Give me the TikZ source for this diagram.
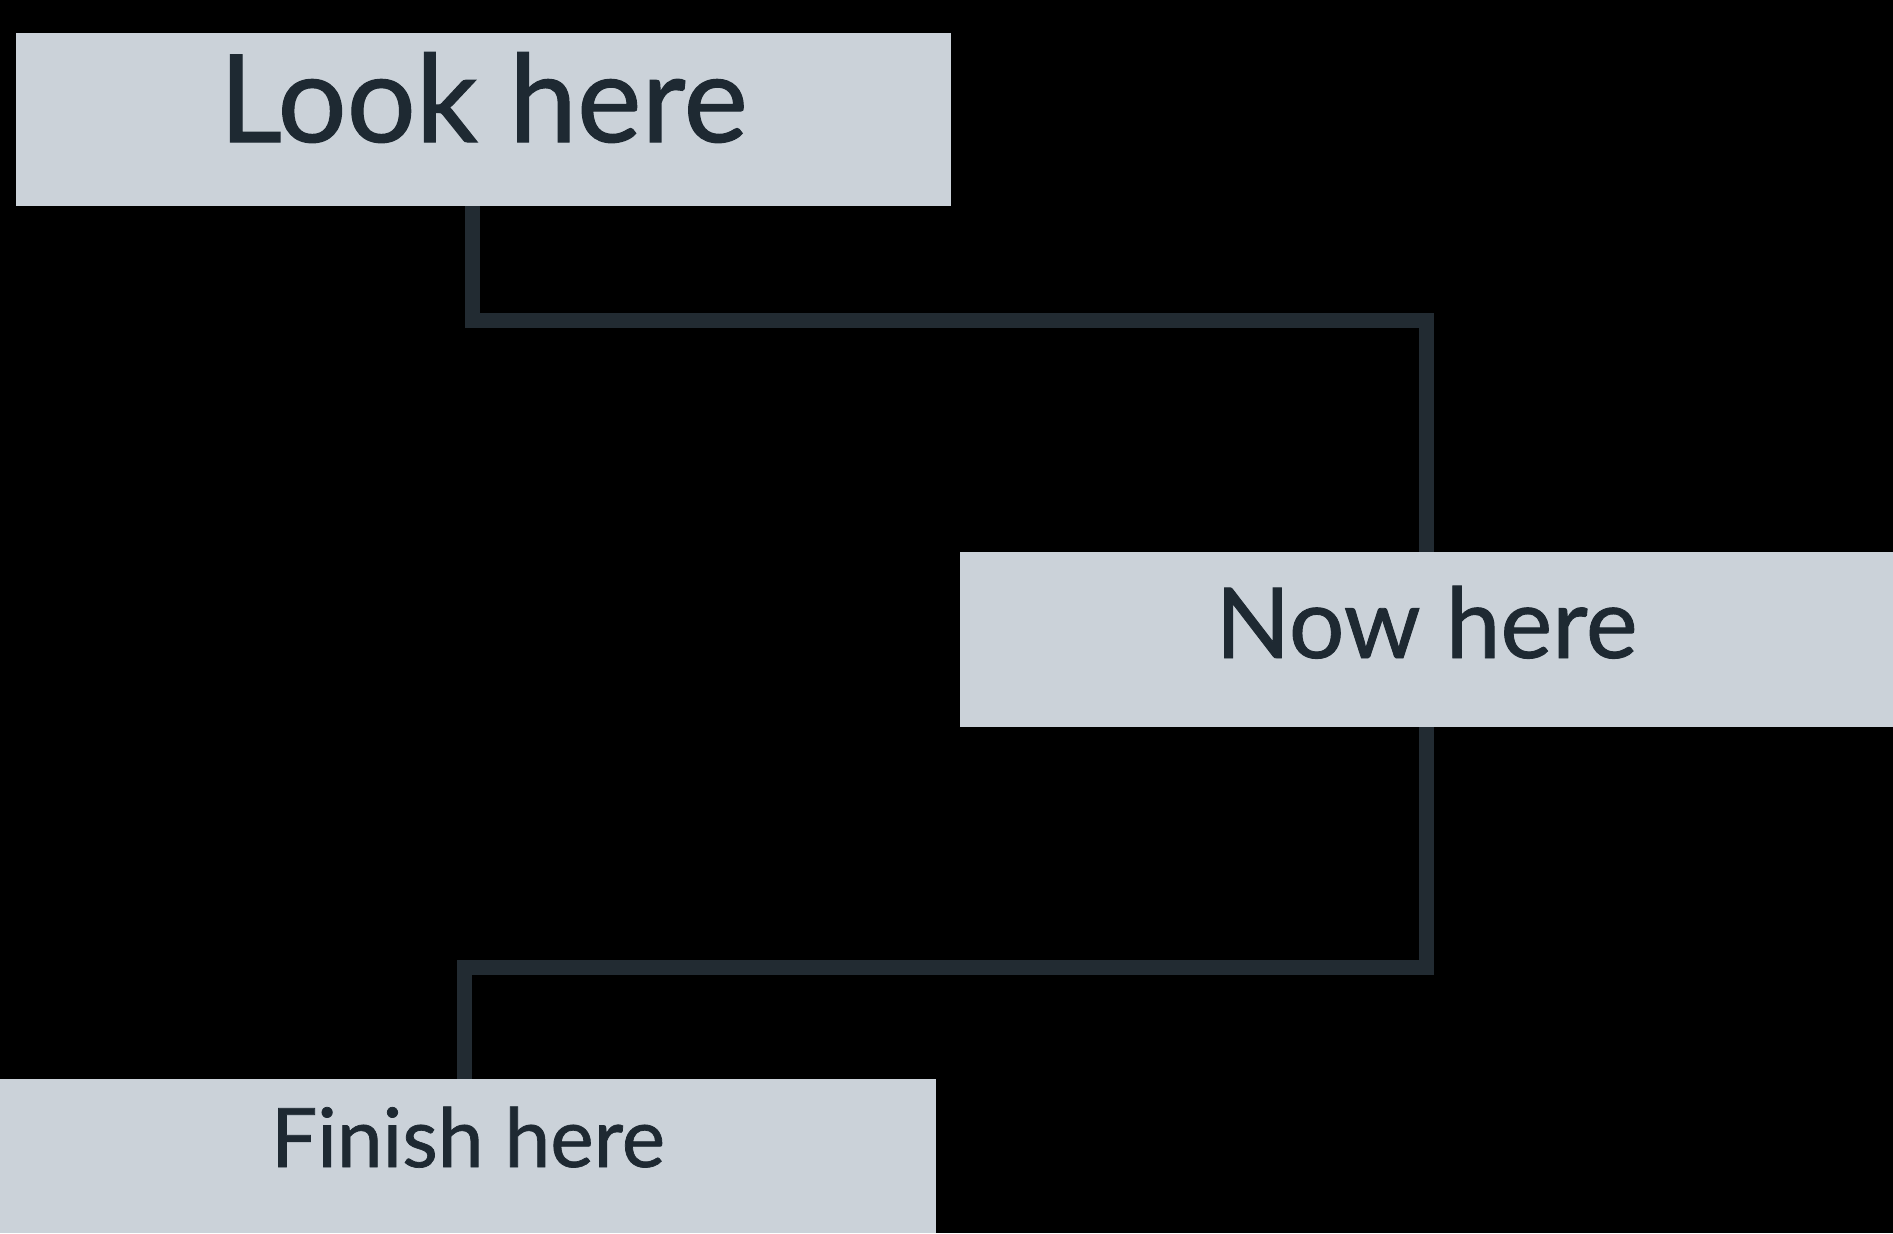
\documentclass[tikz,border=0pt]{standalone}
\usepackage{fontspec}
\setmainfont{Lato}[FakeBold=0.9,BoldFont=*]
\usetikzlibrary{positioning}

\definecolor{boxfill}{HTML}{CBD2D9}
\definecolor{ink}{HTML}{1E2932}
\definecolor{wire}{HTML}{222B32}

\begin{document}
\begin{tikzpicture}[
  every node/.style={inner sep=0pt,outer sep=0pt,text=ink,font=\bfseries},
  panel/.style={fill=boxfill,align=center},
  link/.style={draw=wire,line width=7.5pt}
]

% page, black behind everything
\fill[black] (0,0) rectangle (946.5pt,-616.5pt);
\useasboundingbox (0,0) rectangle (946.5pt,-616.5pt);

\node[panel,anchor=north west,minimum width=467.5pt,text height=54.5pt,text depth=32pt]
   (look) at (8pt,-16.5pt) {\fontsize{61}{61}\selectfont Look here};
\node[panel,minimum width=466.5pt,text height=53pt,text depth=34.5pt]
   (now) [below right=173pt and 4.5pt of look.south east] {\fontsize{49}{49}\selectfont Now here};
\node[panel,minimum width=468pt,text height=44pt,text depth=33pt]
   (finish) [below left=176pt and 12pt of now.south west] {\fontsize{41}{41}\selectfont Finish here};

\draw[link] ([xshift=-5.5pt]look.south) -- ++(0,-57pt) -| (now.north);
\draw[link] (now.south) -- ++(0,-120pt) -| ([xshift=-2pt]finish.north);

\end{tikzpicture}
\end{document}
